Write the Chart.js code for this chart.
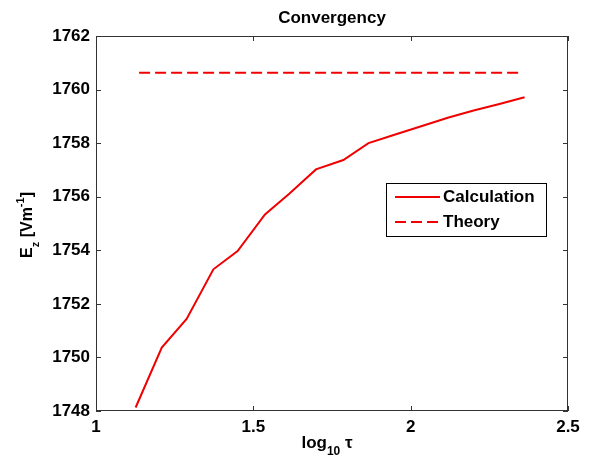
<!DOCTYPE html>
<html>
<head>
<meta charset="utf-8">
<script src="https://cdn.jsdelivr.net/npm/chart.js@4"></script>
<style>
  body { margin: 0; background: #fff; }
  canvas { display: block; }
</style>
</head>
<body>
<canvas id="convChart" width="594" height="461"></canvas>
<script>
// log10(tau) sample points and computed field
const logTau = [1.126, 1.209, 1.288, 1.373, 1.450, 1.537, 1.615, 1.699, 1.786, 1.866, 1.951, 2.036, 2.118, 2.200, 2.282, 2.362];
const calcVals = [1748.13, 1750.37, 1751.44, 1753.29, 1753.97, 1755.34, 1756.12, 1757.02, 1757.37, 1758.00, 1758.32, 1758.64, 1758.95, 1759.22, 1759.46, 1759.71];
const theoryX = [1.137, 2.353];
const theoryVals = [1760.63, 1760.63];
const seriesNames = ['Calculation', 'Theory'];

const xTicks = [1, 1.5, 2, 2.5];
const yTicks = [1748, 1750, 1752, 1754, 1756, 1758, 1760, 1762];

const tickFont = { family: 'Arial, "Liberation Sans"', size: 17, weight: 'bold' };

// draws text pieces one after another, dy shifts for sub/superscripts
function drawPieces(ctx, pieces, cx, baseY) {
  let total = 0;
  pieces.forEach(p => { ctx.font = p.font; total += ctx.measureText(p.t).width; });
  let x = cx - total / 2;
  pieces.forEach(p => {
    ctx.font = p.font;
    ctx.fillText(p.t, x, baseY + p.dy);
    x += ctx.measureText(p.t).width;
  });
}

const matlabFrame = {
  id: 'matlabFrame',
  afterDraw(chart) {
    const ctx = chart.ctx;
    const a = chart.chartArea;
    const xs = chart.scales.x, ys = chart.scales.y;
    ctx.save();

    // box and inward ticks
    ctx.strokeStyle = '#333';
    ctx.lineWidth = 1;
    ctx.strokeRect(a.left + 0.5, a.top + 0.5, a.right - a.left - 1, a.bottom - a.top - 1);
    ctx.beginPath();
    xTicks.forEach(v => {
      const px = Math.round(xs.getPixelForValue(v)) + 0.5;
      ctx.moveTo(px, a.bottom); ctx.lineTo(px, a.bottom - 5);
      ctx.moveTo(px, a.top); ctx.lineTo(px, a.top + 5);
    });
    yTicks.forEach(v => {
      const py = Math.round(ys.getPixelForValue(v)) + 0.5;
      ctx.moveTo(a.left, py); ctx.lineTo(a.left + 5, py);
      ctx.moveTo(a.right, py); ctx.lineTo(a.right - 5, py);
    });
    ctx.stroke();

    ctx.fillStyle = '#000';
    ctx.textAlign = 'left';
    ctx.textBaseline = 'alphabetic';

    // title
    ctx.font = 'bold 17px Arial, "Liberation Sans"';
    ctx.textAlign = 'center';
    ctx.fillText('Convergency', (a.left + a.right) / 2, 23);
    ctx.textAlign = 'left';

    // x label: log10 tau
    const big = 'bold 17px Arial, "Liberation Sans"';
    const small = 'bold 12px Arial, "Liberation Sans"';
    drawPieces(ctx, [
      { t: 'log', font: big, dy: 0 },
      { t: '10', font: small, dy: 7 },
      { t: ' \u03c4', font: big, dy: 0 }
    ], 327, 448);

    // y label: E_z [Vm^-1]
    ctx.save();
    ctx.translate(32, 225);
    ctx.rotate(-Math.PI / 2);
    const yb = 'bold 16px Arial, "Liberation Sans"';
    const ys2 = 'bold 11px Arial, "Liberation Sans"';
    drawPieces(ctx, [
      { t: 'E', font: yb, dy: 0 },
      { t: 'z', font: ys2, dy: 7 },
      { t: ' [Vm', font: yb, dy: 0 },
      { t: '-1', font: ys2, dy: -8 },
      { t: ']', font: yb, dy: 0 }
    ], 0, 0);
    ctx.restore();

    // legend
    const lx = 386, ly = 183, lw = 160, lh = 53;
    ctx.fillStyle = '#fff';
    ctx.fillRect(lx, ly, lw, lh);
    ctx.strokeStyle = '#000';
    ctx.strokeRect(lx + 0.5, ly + 0.5, lw, lh);
    chart.data.datasets.forEach((ds, i) => {
      const rowY = 197 + i * 25;
      ctx.strokeStyle = ds.borderColor;
      ctx.lineWidth = 2;
      ctx.setLineDash(ds.borderDash || []);
      ctx.beginPath();
      ctx.moveTo(395, rowY);
      ctx.lineTo(440, rowY);
      ctx.stroke();
      ctx.setLineDash([]);
      ctx.fillStyle = '#000';
      ctx.font = big;
      ctx.textBaseline = 'middle';
      ctx.fillText(ds.label, 443, rowY);
      ctx.textBaseline = 'alphabetic';
    });
    ctx.restore();
  }
};

new Chart(document.getElementById('convChart'), {
  type: 'line',
  data: {
    datasets: [
      {
        label: seriesNames[0],
        data: logTau.map((x, i) => ({ x: x, y: calcVals[i] })),
        borderColor: '#f00000',
        borderWidth: 2,
        pointRadius: 0,
        tension: 0,
        fill: false
      },
      {
        label: seriesNames[1],
        data: theoryX.map((x, i) => ({ x: x, y: theoryVals[i] })),
        borderColor: '#f00000',
        borderWidth: 2,
        borderDash: [11, 5],
        pointRadius: 0,
        fill: false
      }
    ]
  },
  options: {
    responsive: false,
    animation: false,
    layout: { padding: { left: 0, right: 26, top: 36, bottom: 0 } },
    plugins: {
      legend: { display: false },
      title: { display: false },
      tooltip: { enabled: false }
    },
    scales: {
      x: {
        type: 'linear',
        min: 1,
        max: 2.5,
        afterBuildTicks: s => { s.ticks = xTicks.map(v => ({ value: v })); },
        afterFit: s => { s.height = 50; },
        grid: { display: false, drawTicks: false },
        border: { display: false },
        ticks: { color: '#000', font: tickFont, padding: 6, maxRotation: 0, callback: v => String(v) }
      },
      y: {
        type: 'linear',
        min: 1748,
        max: 1762,
        afterBuildTicks: s => { s.ticks = yTicks.map(v => ({ value: v })); },
        afterFit: s => { s.width = 96; },
        grid: { display: false, drawTicks: false },
        border: { display: false },
        ticks: { color: '#000', font: tickFont, padding: 6, callback: v => String(v) }
      }
    }
  },
  plugins: [matlabFrame]
});
</script>
</body>
</html>
